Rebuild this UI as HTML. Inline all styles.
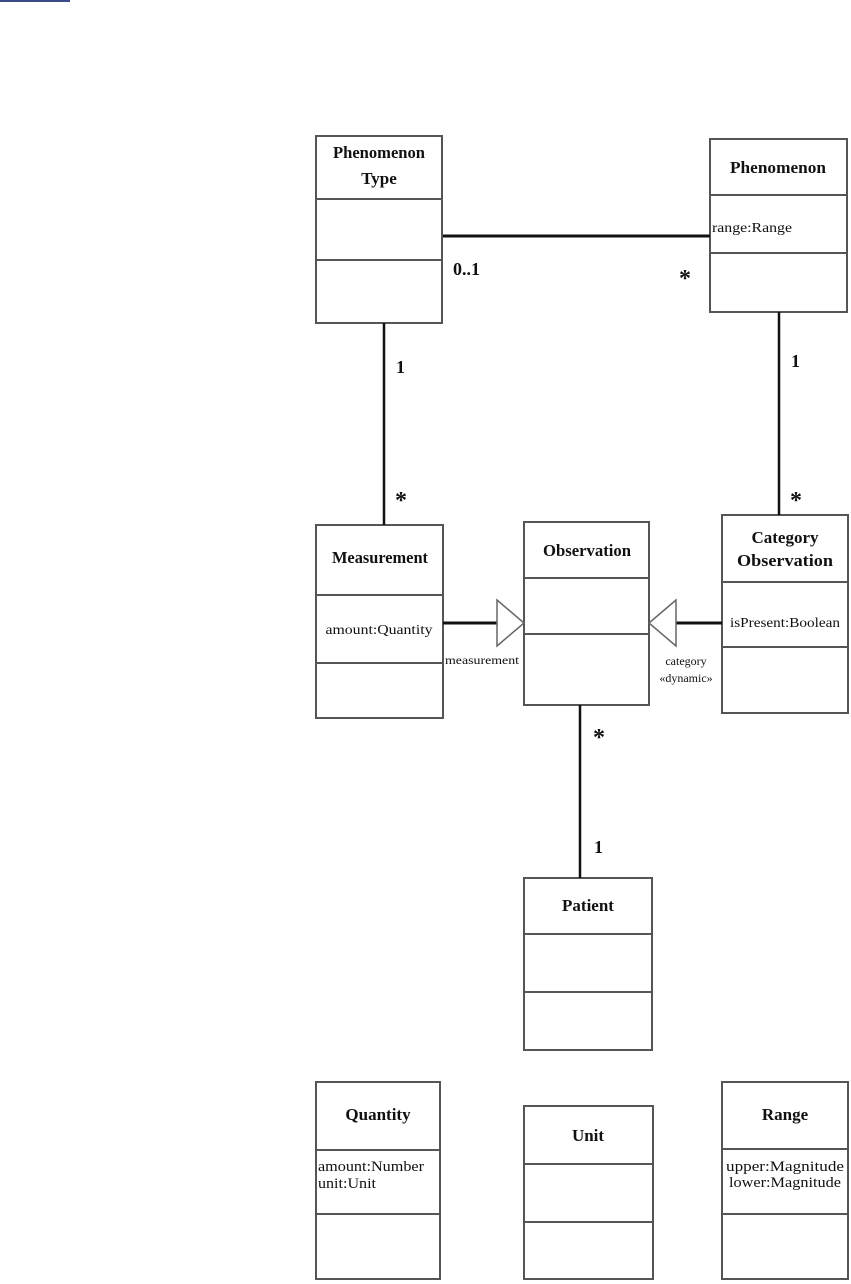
<!DOCTYPE html>
<html><head><meta charset="utf-8"><style>
html,body{margin:0;padding:0;background:#fff;width:851px;height:1284px;overflow:hidden}
svg{display:block}
text{font-family:"Liberation Serif",serif;fill:#111}
.t{font-weight:bold;font-size:17px}
.a{font-size:14px}
.m{font-size:18px;font-weight:bold}
.s{font-size:24px;font-weight:bold}
</style></head><body>
<svg width="851" height="1284" viewBox="0 0 851 1284" xmlns="http://www.w3.org/2000/svg">
<rect x="0" y="0" width="70" height="2" fill="#3a4a8a"/>
<g fill="#fff" stroke="#555" stroke-width="2">
<rect x="316" y="136" width="126" height="187"/>
<line x1="316" y1="199" x2="442" y2="199"/><line x1="316" y1="260" x2="442" y2="260"/>
<rect x="710" y="139" width="137" height="173"/>
<line x1="710" y1="195" x2="847" y2="195"/><line x1="710" y1="253" x2="847" y2="253"/>
<rect x="316" y="525" width="127" height="193"/>
<line x1="316" y1="595" x2="443" y2="595"/><line x1="316" y1="663" x2="443" y2="663"/>
<rect x="524" y="522" width="125" height="183"/>
<line x1="524" y1="578" x2="649" y2="578"/><line x1="524" y1="634" x2="649" y2="634"/>
<rect x="722" y="515" width="126" height="198"/>
<line x1="722" y1="582" x2="848" y2="582"/><line x1="722" y1="647" x2="848" y2="647"/>
<rect x="524" y="878" width="128" height="172"/>
<line x1="524" y1="934" x2="652" y2="934"/><line x1="524" y1="992" x2="652" y2="992"/>
<rect x="316" y="1082" width="124" height="197"/>
<line x1="316" y1="1150" x2="440" y2="1150"/><line x1="316" y1="1214" x2="440" y2="1214"/>
<rect x="524" y="1106" width="129" height="173"/>
<line x1="524" y1="1164" x2="653" y2="1164"/><line x1="524" y1="1222" x2="653" y2="1222"/>
<rect x="722" y="1082" width="126" height="197"/>
<line x1="722" y1="1149" x2="848" y2="1149"/><line x1="722" y1="1214" x2="848" y2="1214"/>
</g>
<g stroke="#111" fill="none">
<line x1="443" y1="236" x2="710" y2="236" stroke-width="3"/>
<line x1="384" y1="323" x2="384" y2="525" stroke-width="2.5"/>
<line x1="779" y1="312" x2="779" y2="515" stroke-width="2.5"/>
<line x1="580" y1="705" x2="580" y2="878" stroke-width="2.5"/>
<line x1="443" y1="623" x2="497" y2="623" stroke-width="3"/>
<line x1="676" y1="623" x2="722" y2="623" stroke-width="3"/>
</g>
<g fill="#fff" stroke="#666" stroke-width="1.5">
<polygon points="497,600 524,623 497,646"/>
<polygon points="676,600 649,623 676,646"/>
</g>
<text class="t" x="379" y="158" text-anchor="middle" textLength="92" lengthAdjust="spacingAndGlyphs">Phenomenon</text>
<text class="t" x="379" y="184" text-anchor="middle">Type</text>
<text class="t" x="778" y="173" text-anchor="middle" textLength="96" lengthAdjust="spacingAndGlyphs">Phenomenon</text>
<text class="a" x="712" y="232" textLength="80" lengthAdjust="spacingAndGlyphs">range:Range</text>
<text class="m" x="453" y="275">0..1</text>
<text class="s" x="679" y="286">*</text>
<text class="m" x="396" y="373">1</text>
<text class="s" x="395" y="508">*</text>
<text class="m" x="791" y="367">1</text>
<text class="s" x="790" y="508">*</text>
<text class="t" x="380" y="563" text-anchor="middle" textLength="96" lengthAdjust="spacingAndGlyphs">Measurement</text>
<text class="a" x="379" y="634" text-anchor="middle" textLength="107" lengthAdjust="spacingAndGlyphs">amount:Quantity</text>
<text class="a" x="482" y="664" text-anchor="middle" textLength="74" lengthAdjust="spacingAndGlyphs" style="font-size:12px">measurement</text>
<text class="t" x="587" y="556" text-anchor="middle" textLength="88" lengthAdjust="spacingAndGlyphs">Observation</text>
<text class="t" x="785" y="543" text-anchor="middle">Category</text>
<text class="t" x="785" y="566" text-anchor="middle" textLength="96" lengthAdjust="spacingAndGlyphs">Observation</text>
<text class="a" x="785" y="627" text-anchor="middle" textLength="110" lengthAdjust="spacingAndGlyphs">isPresent:Boolean</text>
<text class="a" x="686" y="665" text-anchor="middle" style="font-size:12px">category</text>
<text class="a" x="686" y="682" text-anchor="middle" style="font-size:12px">«dynamic»</text>
<text class="s" x="593" y="745">*</text>
<text class="m" x="594" y="853">1</text>
<text class="t" x="588" y="911" text-anchor="middle">Patient</text>
<text class="t" x="378" y="1120" text-anchor="middle">Quantity</text>
<text class="a" x="318" y="1171" style="font-size:15px" textLength="106" lengthAdjust="spacingAndGlyphs">amount:Number</text>
<text class="a" x="318" y="1188" style="font-size:15px" textLength="58" lengthAdjust="spacingAndGlyphs">unit:Unit</text>
<text class="t" x="588" y="1141" text-anchor="middle">Unit</text>
<text class="t" x="785" y="1120" text-anchor="middle">Range</text>
<text class="a" x="785" y="1171" style="font-size:15px" text-anchor="middle" textLength="118" lengthAdjust="spacingAndGlyphs">upper:Magnitude</text>
<text class="a" x="785" y="1187" style="font-size:15px" text-anchor="middle" textLength="112" lengthAdjust="spacingAndGlyphs">lower:Magnitude</text>
</svg>
</body></html>
